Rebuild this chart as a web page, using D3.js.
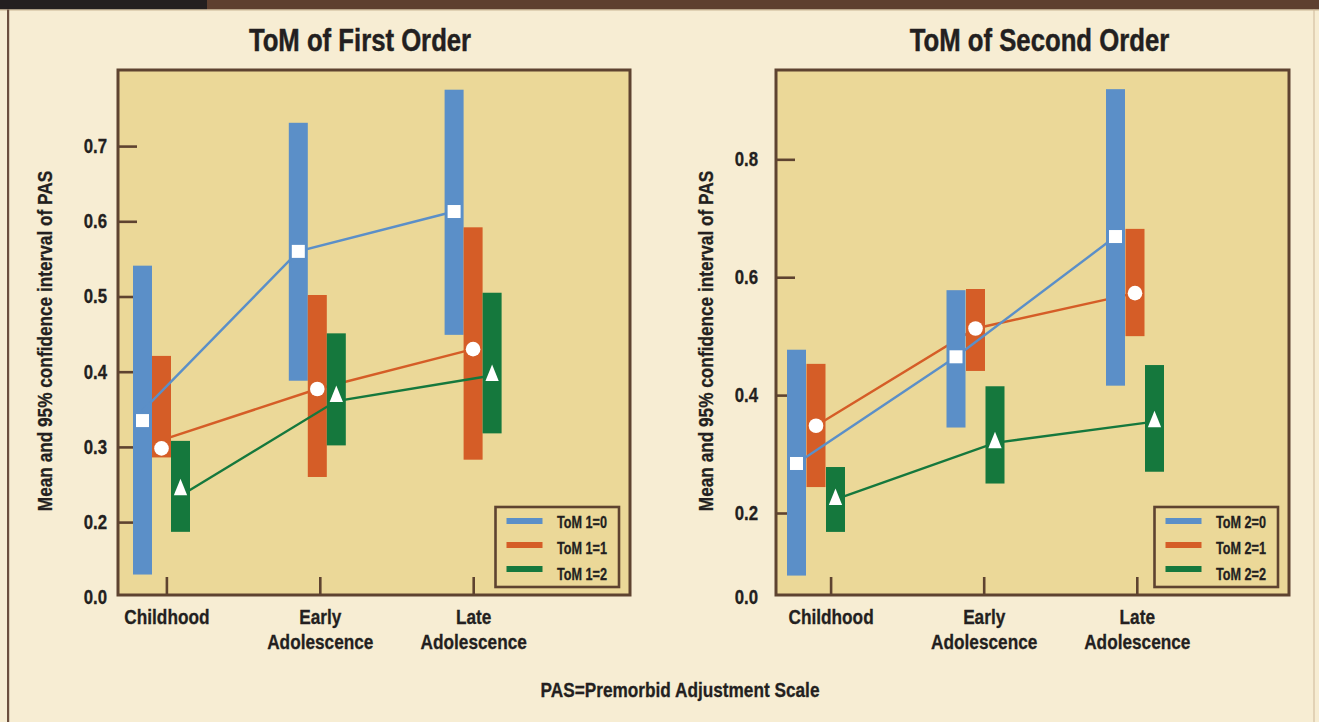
<!DOCTYPE html>
<html><head><meta charset="utf-8">
<script src="https://cdn.jsdelivr.net/npm/d3@7"></script>
<style>
html,body{margin:0;padding:0;background:#F7EDD3;}
svg{display:block;}
text{font-family:"Liberation Sans",Arial,sans-serif;font-weight:bold;fill:#231F20;stroke:#231F20;stroke-width:0.3px;}
</style></head><body>
<svg id="chart" width="1319" height="722"></svg>
<script>
// ---------------- DATA ----------------
const categories = ["Childhood", "Early Adolescence", "Late Adolescence"];
const categoryLines = [["Childhood"], ["Early", "Adolescence"], ["Late", "Adolescence"]];
const footnote = "PAS=Premorbid Adjustment Scale";
const yTitle = "Mean and 95% confidence interval of PAS";

// ToM of First Order  (rows: ToM 1=0, ToM 1=1, ToM 1=2)
const firstTitle = "ToM of First Order";
const firstNames = ["ToM 1=0", "ToM 1=1", "ToM 1=2"];
const firstLow  = [[0.060, 0.388, 0.449], [0.286, 0.260, 0.283], [0.174, 0.302, 0.318]];
const firstHigh = [[0.541, 0.731, 0.775], [0.421, 0.502, 0.592], [0.308, 0.451, 0.505]];
const firstMean = [[0.335, 0.560, 0.613], [0.298, 0.377, 0.430], [0.243, 0.367, 0.395]];
const firstLine = [[0.348, 0.560, 0.613], [0.309, 0.377, 0.430], [0.235, 0.361, 0.395]];
const firstTicks = [0.0, 0.2, 0.3, 0.4, 0.5, 0.6, 0.7];

// ToM of Second Order  (rows: ToM 2=0, ToM 2=1, ToM 2=2)
const secondTitle = "ToM of Second Order";
const secondNames = ["ToM 2=0", "ToM 2=1", "ToM 2=2"];
const secondLow  = [[0.051, 0.345, 0.416], [0.244, 0.441, 0.500], [0.155, 0.250, 0.270]];
const secondHigh = [[0.477, 0.578, 0.919], [0.453, 0.580, 0.682], [0.278, 0.415, 0.451]];
const secondMean = [[0.284, 0.465, 0.669], [0.348, 0.513, 0.573], [0.223, 0.319, 0.355]];
const secondLine = [[0.284, 0.465, 0.669], [0.348, 0.513, 0.573], [0.223, 0.319, 0.355]];
const secondTicks = [0.0, 0.2, 0.4, 0.6, 0.8];

// ---------------- STYLE ----------------
const colors = ["#5B8FC8", "#D55D27", "#15783D"];
const ink = "#231F20", frameBrown = "#5E4330", plotBg = "#EBD898", cream = "#F7EDD3";
const RATIO = 0.84;

function condense(sel, ratio = RATIO) {
  sel.each(function () {
    const L = this.getComputedTextLength();
    if (L > 0) d3.select(this).attr("textLength", L * ratio).attr("lengthAdjust", "spacingAndGlyphs");
  });
}

const svg = d3.select("#chart");
const W = 1319, H = 722;

// page frame
svg.append("rect").attr("width", W).attr("height", H).attr("fill", cream);
svg.append("rect").attr("x", 0).attr("y", 0).attr("width", 207).attr("height", 9.5).attr("fill", "#231F20");
svg.append("rect").attr("x", 207).attr("y", 0).attr("width", W - 207).attr("height", 9.5).attr("fill", "#5E3F2F");
svg.append("rect").attr("x", 0).attr("y", 9.5).attr("width", W).attr("height", 1).attr("fill", "#C9B593");
svg.append("rect").attr("x", 7).attr("y", 9.5).attr("width", 2.2).attr("height", H).attr("fill", "#6B4F3E");
svg.append("rect").attr("x", 1313.5).attr("y", 9.5).attr("width", 1).attr("height", H).attr("fill", "#CDB899");

const panels = [
  { title: firstTitle, titleX: 360, box: [118, 630], yDomain: [0, 0.2, 0.8], yRange: [597, 522.1, 70.9],
    ticks: firstTicks, barRange: [161.5, 473.1], axisRange: [166.4, 473.2], barStep: 19, yTitleX: 51.7,
    tickPad: 11, names: firstNames, low: firstLow, high: firstHigh, mean: firstMean, line: firstLine },
  { title: secondTitle, titleX: 1039.5, box: [776, 1289], yDomain: [0, 0.2, 0.95], yRange: [597, 513, 70.9],
    ticks: secondTicks, barRange: [816, 1135], axisRange: [830.6, 1136.8], barStep: 19.5, yTitleX: 713.3,
    tickPad: 18, names: secondNames, low: secondLow, high: secondHigh, mean: secondMean, line: secondLine }
];

const boxTop = 70, boxBottom = 595;
const barW = 19;

const triPath = "M0,-11L6.65,5.5L-6.65,5.5Z";

panels.forEach(p => {
  const g = svg.append("g");
  const y = d3.scaleLinear().domain(p.yDomain).range(p.yRange);
  const xb = d3.scalePoint().domain(categories).range(p.barRange);
  const xa = d3.scalePoint().domain(categories).range(p.axisRange);
  const [bx0, bx1] = p.box;

  // title
  g.append("text").attr("x", p.titleX).attr("y", 50.7).attr("text-anchor", "middle")
    .attr("font-size", 30.6).style("stroke-width", "0.45px").text(p.title).call(condense);

  // plot background
  g.append("rect").attr("x", bx0).attr("y", boxTop).attr("width", bx1 - bx0).attr("height", boxBottom - boxTop)
    .attr("fill", plotBg);

  // y axis
  const ya = g.append("g").attr("transform", `translate(${bx0},0)`)
    .call(d3.axisLeft(y).tickValues(p.ticks).tickFormat(d3.format(".1f")).tickSize(-19).tickPadding(p.tickPad).tickSizeOuter(0));
  ya.select(".domain").remove();
  ya.selectAll(".tick line").attr("stroke", frameBrown).attr("stroke-width", 2.6)
    .filter(d => d === 0).remove();
  ya.selectAll(".tick text").attr("font-size", 20).attr("fill", ink)
    .attr("font-family", null).call(condense);
  ya.attr("font-family", null).attr("font-size", null);

  // x axis
  const xaG = g.append("g").attr("transform", `translate(0,${boxBottom - 1})`)
    .call(d3.axisBottom(xa).tickSize(-17).tickSizeOuter(0).tickFormat(""));
  xaG.select(".domain").remove();
  xaG.selectAll(".tick line").attr("stroke", frameBrown).attr("stroke-width", 2.6);
  xaG.selectAll(".tick text").remove();
  xaG.selectAll(".tick").each(function (d, i) {
    categoryLines[i].forEach((ln, k) => {
      d3.select(this).append("text").attr("x", 0).attr("y", 30.3 + k * 24.5)
        .attr("text-anchor", "middle").attr("font-size", 20.5).attr("fill", ink).text(ln).call(condense);
    });
  });

  // y axis title
  g.append("text").attr("transform", `translate(${p.yTitleX},341) rotate(-90)`)
    .attr("text-anchor", "middle").attr("font-size", 20.5).text(yTitle).call(condense);

  const bx = (s, c) => xb(c) + (s - 1) * p.barStep;
  const lineGen = s => d3.line().x((d, j) => bx(s, categories[j])).y(d => y(d));

  // orange line underneath the bars
  g.append("path").attr("d", lineGen(1)(p.line[1])).attr("fill", "none")
    .attr("stroke", colors[1]).attr("stroke-width", 2.4);

  // confidence bars
  p.names.forEach((n, s) => {
    g.selectAll(null).data(categories).join("rect")
      .attr("x", c => bx(s, c) - barW / 2)
      .attr("width", barW)
      .attr("y", (c, j) => y(p.high[s][j]))
      .attr("height", (c, j) => y(p.low[s][j]) - y(p.high[s][j]))
      .attr("fill", colors[s]);
  });

  // blue and green lines over the bars
  [0, 2].forEach(s => {
    g.append("path").attr("d", lineGen(s)(p.line[s])).attr("fill", "none")
      .attr("stroke", colors[s]).attr("stroke-width", 2.4);
  });

  // mean markers
  g.selectAll(null).data(categories).join("rect")
    .attr("x", (c) => bx(0, c) - 6.5).attr("y", (c, j) => y(p.mean[0][j]) - 6.5)
    .attr("width", 13).attr("height", 13).attr("fill", "#fff");
  g.selectAll(null).data(categories).join("circle")
    .attr("cx", c => bx(1, c)).attr("cy", (c, j) => y(p.mean[1][j])).attr("r", 7.3).attr("fill", "#fff");
  g.selectAll(null).data(categories).join("path")
    .attr("transform", (c, j) => `translate(${bx(2, c)},${y(p.mean[2][j])})`)
    .attr("d", triPath).attr("fill", "#fff");

  // legend
  const lgX = bx1 - 11 - 123.5, lgY = 507;
  const lg = g.append("g");
  lg.append("rect").attr("x", lgX).attr("y", lgY).attr("width", 123.5).attr("height", 80)
    .attr("fill", "none").attr("stroke", frameBrown).attr("stroke-width", 2.6);
  p.names.forEach((n, s) => {
    lg.append("rect").attr("x", lgX + 11).attr("y", lgY + 11 + s * 24).attr("width", 36).attr("height", 6)
      .attr("fill", colors[s]);
    lg.append("text").attr("x", lgX + 61.5).attr("y", lgY + 20.5 + s * 26.4)
      .attr("font-size", 16.2).text(n).call(condense, 0.78);
  });

  // plot border
  g.append("rect").attr("x", bx0).attr("y", boxTop).attr("width", bx1 - bx0).attr("height", boxBottom - boxTop)
    .attr("fill", "none").attr("stroke", frameBrown).attr("stroke-width", 3);
});

// footnote
svg.append("text").attr("x", 680).attr("y", 697.3).attr("text-anchor", "middle")
  .attr("font-size", 20.5).text(footnote).call(condense);
</script>
</body></html>
